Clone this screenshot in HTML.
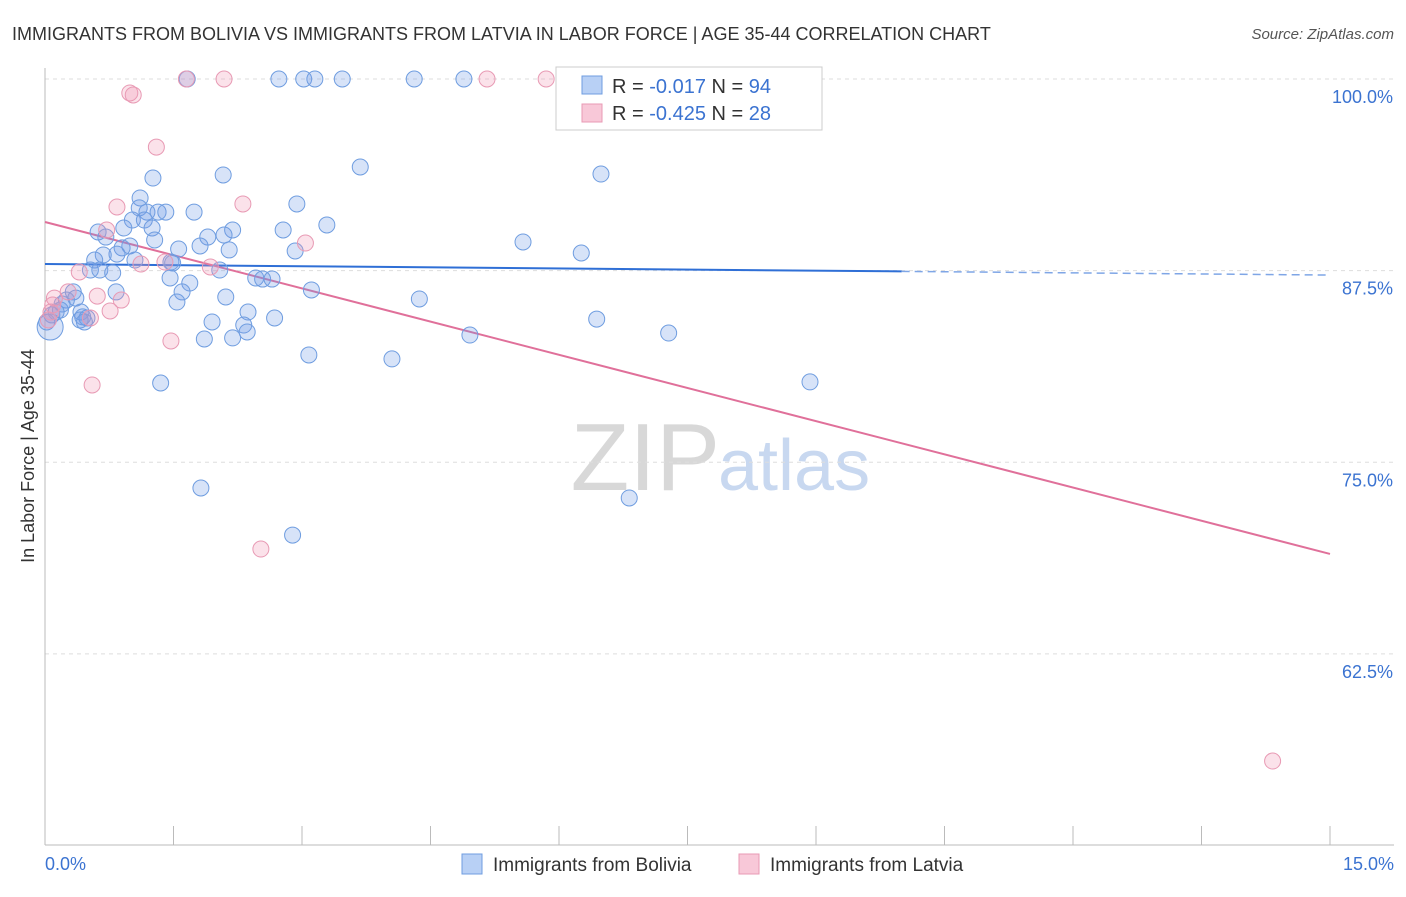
<!DOCTYPE html>
<html><head><meta charset="utf-8"><style>
body{margin:0;background:#fff;font-family:"Liberation Sans",sans-serif;}
svg text{font-family:"Liberation Sans",sans-serif;}
</style></head><body>
<svg id="chart" width="1406" height="892" xmlns="http://www.w3.org/2000/svg">
<text x="12" y="40" font-size="18" fill="#333">IMMIGRANTS FROM BOLIVIA VS IMMIGRANTS FROM LATVIA IN LABOR FORCE | AGE 35-44 CORRELATION CHART</text>
<text x="1394" y="39" font-size="15" fill="#555" text-anchor="end" font-style="italic">Source: ZipAtlas.com</text>
<text x="720" y="490" font-size="96" fill="#d8d8d8" text-anchor="end" font-family="Liberation Serif">ZIP</text>
<text x="718" y="490" font-size="72" fill="#c8d8f0">atlas</text>
<g id="grid"></g><g id="axes"></g><g id="trend"></g><g id="points"></g>
<g>
<rect x="556" y="67" width="266" height="63" fill="#fff" stroke="#ccc"/>
<rect x="582" y="76" width="20" height="18" fill="#b8d0f5" stroke="#6f9de0"/>
<text x="612" y="93" font-size="20" fill="#333">R = <tspan fill="#3b73d1">-0.017</tspan>   N = <tspan fill="#3b73d1">94</tspan></text>
<rect x="582" y="104" width="20" height="18" fill="#f8c8d8" stroke="#e89ab4"/>
<text x="612" y="120" font-size="20" fill="#333">R = <tspan fill="#3b73d1">-0.425</tspan>   N = <tspan fill="#3b73d1">28</tspan></text>
</g>
<g>
<rect x="462" y="854" width="20" height="20" fill="#b8d0f5" stroke="#6f9de0"/>
<text x="493" y="871" font-size="19" fill="#333">Immigrants from Bolivia</text>
<rect x="739" y="854" width="20" height="20" fill="#f8c8d8" stroke="#e89ab4"/>
<text x="770" y="871" font-size="19" fill="#333">Immigrants from Latvia</text>
</g>
<text transform="translate(34,456) rotate(-90)" font-size="18" fill="#333" text-anchor="middle">In Labor Force | Age 35-44</text>
</svg>
<script>
const xTicks=[0,1.5,3,4.5,6,7.5,9,10.5,12,13.5,15];
const yTicks=[100,87.5,75,62.5];
const yTickLabels=["100.0%","87.5%","75.0%","62.5%"];
const boliviaX=[1.66,2.73,3.02,3.15,3.47,4.31,4.89,3.68,6.49,1.26,2.08,1.11,2.94,1.10,1.19,1.32,1.41,1.74,1.02,1.16,3.29,2.78,2.19,0.62,0.71,0.92,1.25,1.28,1.90,2.09,5.58,0.99,0.90,1.81,1.56,2.15,2.92,6.26,0.84,0.68,1.05,0.58,1.47,1.49,0.53,0.64,0.79,2.04,2.46,2.54,2.65,1.46,1.69,1.60,3.11,2.11,0.83,0.33,0.36,0.25,0.20,0.18,0.13,0.08,0.02,0.42,0.44,0.49,0.41,0.46,1.54,4.37,2.37,2.68,1.95,6.44,2.32,2.36,2.19,1.86,4.96,7.28,3.08,4.05,1.35,8.93,1.82,6.82,2.89,0.06];
const boliviaY=[100,100,100,100,100,100,100,94.26,93.80,93.54,93.74,92.24,91.85,91.59,91.32,91.32,91.32,91.32,90.80,90.80,90.48,90.15,90.15,90.02,89.69,90.28,90.28,89.50,89.69,89.82,89.37,89.11,88.98,89.11,88.91,88.85,88.78,88.65,88.58,88.52,88.19,88.19,88.06,88.00,87.54,87.54,87.35,87.54,87.02,86.95,86.95,87.02,86.69,86.11,86.24,85.78,86.11,86.11,85.71,85.58,85.32,84.93,84.80,84.61,84.15,84.80,84.48,84.41,84.28,84.15,85.45,85.65,84.80,84.41,84.15,84.34,83.95,83.50,83.11,83.04,83.30,83.43,82.00,81.74,80.17,80.24,73.32,72.67,70.25,83.82];
const latviaX=[1.65,2.09,5.16,5.85,0.99,1.03,1.30,0.84,2.31,0.72,3.04,1.40,1.12,1.93,0.40,0.61,0.27,0.89,0.11,0.09,0.07,0.04,0.76,0.53,1.47,0.55,2.52,14.33];
const latviaY=[100,100,100,100,99.09,98.96,95.56,91.65,91.85,90.15,89.30,88.06,87.93,87.74,87.41,85.84,86.11,85.58,85.71,85.26,84.80,84.28,84.87,84.41,82.91,80.04,69.34,55.51];
const boliviaTrend=[87.93,87.21];
const latviaTrend=[90.67,69.02];
const NS="http://www.w3.org/2000/svg";
const xs=v=>45+v/15*1285;
const ys=v=>79+(100-v)*15.33;
function mk(tag,attrs,parent){const e=document.createElementNS(NS,tag);for(const k in attrs)e.setAttribute(k,attrs[k]);document.getElementById(parent).appendChild(e);return e;}
yTicks.forEach((t,i)=>{
 const l=mk('line',{x1:45,x2:1394,y1:ys(t),y2:ys(t),stroke:'#ddd','stroke-dasharray':'4,4'},'grid');
 
 
 const tx=mk('text',{x:1393,y:ys(t)+24,'font-size':18,fill:'#3b73d1','text-anchor':'end'},'grid');
 tx.textContent=yTickLabels[i];
 
 
});
const xa=mk('line',{x1:45,x2:1394,y1:845,y2:845,stroke:'#bbb'},'axes');


const ya=mk('line',{x1:45,x2:45,y1:68,y2:845,stroke:'#bbb'},'axes');


xTicks.forEach(t=>{
 const l=mk('line',{x1:xs(t),x2:xs(t),y1:826,y2:845,stroke:'#bbb'},'axes');
 
 
});
[[0,'0.0%','start',45],[15,'15.0%','end',1394]].forEach(d=>{
 const tx=mk('text',{x:d[3],y:870,'font-size':18,fill:'#3b73d1','text-anchor':d[2]},'axes');
 tx.textContent=d[1];
 
 
});
const xb=10.0;
const bm=boliviaTrend[0]+(boliviaTrend[1]-boliviaTrend[0])*xb/15;
const t1=mk('line',{x1:xs(0),y1:ys(boliviaTrend[0]),x2:xs(xb),y2:ys(bm),stroke:'#2f6fd6','stroke-width':2},'trend');


const t2=mk('line',{x1:xs(xb),y1:ys(bm),x2:xs(15),y2:ys(boliviaTrend[1]),stroke:'#7fa6e6','stroke-width':1.5,'stroke-dasharray':'8,5'},'trend');


const t3=mk('line',{x1:xs(0),y1:ys(latviaTrend[0]),x2:xs(15),y2:ys(latviaTrend[1]),stroke:'#e0709a','stroke-width':2},'trend');


boliviaX.forEach((x,i)=>{
 const c=mk('circle',{cx:xs(x),cy:ys(boliviaY[i]),r:(i===boliviaX.length-1?13:8),fill:'rgba(110,155,230,0.28)',stroke:'#6f9de0','stroke-width':1},'points');
 
 
});
latviaX.forEach((x,i)=>{
 const c=mk('circle',{cx:xs(x),cy:ys(latviaY[i]),r:8,fill:'rgba(240,150,180,0.28)',stroke:'#e89ab4','stroke-width':1},'points');
 
 
});
</script>
</body></html>
